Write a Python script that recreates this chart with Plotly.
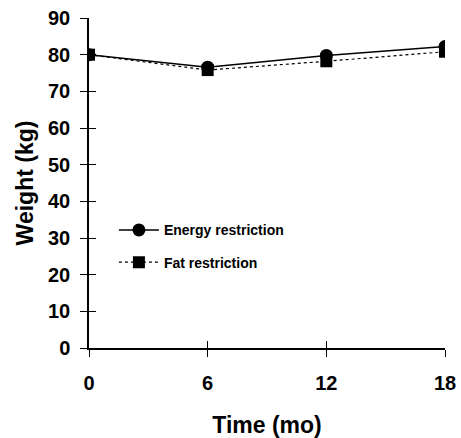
import plotly.graph_objects as go

months = [0, 6, 12, 18]
energy = [80.0, 76.6, 79.8, 82.2]
fat = [80.0, 75.8, 78.2, 80.8]
x_ticks = [0, 6, 12, 18]
y_ticks = [0, 10, 20, 30, 40, 50, 60, 70, 80, 90]

FONT = "Liberation Sans, Arial, sans-serif"

fig = go.Figure()
fig.add_trace(go.Scatter(x=months, y=energy, name="Energy restriction", mode="lines+markers",
                         legendgroup="a",
                         line=dict(color="black", width=1.5),
                         marker=dict(symbol="circle", size=13, color="black")))
fig.add_trace(go.Scatter(x=months, y=fat, name="Fat restriction", mode="lines+markers",
                         legendgroup="b",
                         line=dict(color="black", width=1.2, dash="dot"),
                         marker=dict(symbol="square", size=12, color="black")))

axis_common = dict(showgrid=False, zeroline=False, showline=True, linecolor="black", linewidth=1.5,
                   ticks="outside", ticklen=7, tickwidth=1.3, tickcolor="black", automargin=False,
                   ticklabeloverflow="allow")
fig.update_layout(
    width=461, height=438,
    margin=dict(l=89, r=16, t=18, b=90),
    plot_bgcolor="white", paper_bgcolor="white",
    font=dict(family=FONT, color="black"),
    showlegend=True,
    legend=dict(x=0.07, y=0.405, xanchor="left", yanchor="top", bgcolor="rgba(0,0,0,0)",
                font=dict(family=FONT, size=14, color="black", weight="bold"),
                tracegroupgap=11, itemwidth=40),
    xaxis=dict(range=[0, 18], tickvals=x_ticks, ticktext=[str(v) for v in x_ticks],
               tickfont=dict(size=20, weight="bold"), ticklabelstandoff=9,
               title=dict(text="Time (mo)", font=dict(size=23, weight="bold"), standoff=24),
               **axis_common),
    yaxis=dict(range=[0, 90], tickvals=y_ticks, ticktext=[str(v) for v in y_ticks],
               tickfont=dict(size=20, weight="bold"), ticklabelstandoff=6,
               title=dict(text="Weight (kg)", font=dict(size=23, weight="bold"), standoff=8),
               **axis_common),
    xaxis2=dict(range=[0, 18], tickvals=x_ticks, overlaying="x", showticklabels=False,
                showgrid=False, zeroline=False, showline=False, ticks="inside", ticklen=7,
                tickwidth=1.3, tickcolor="black", anchor="y"),
    yaxis2=dict(range=[0, 90], tickvals=y_ticks, overlaying="y", showticklabels=False,
                showgrid=False, zeroline=False, showline=False, ticks="inside", ticklen=7,
                tickwidth=1.3, tickcolor="black", anchor="x"),
)
fig.add_trace(go.Scatter(x=[None], y=[None], xaxis="x2", yaxis="y2", showlegend=False, hoverinfo="skip"))
fig.write_html("out.html", config={"displayModeBar": False},
               post_script="document.body.style.margin='0px';")
